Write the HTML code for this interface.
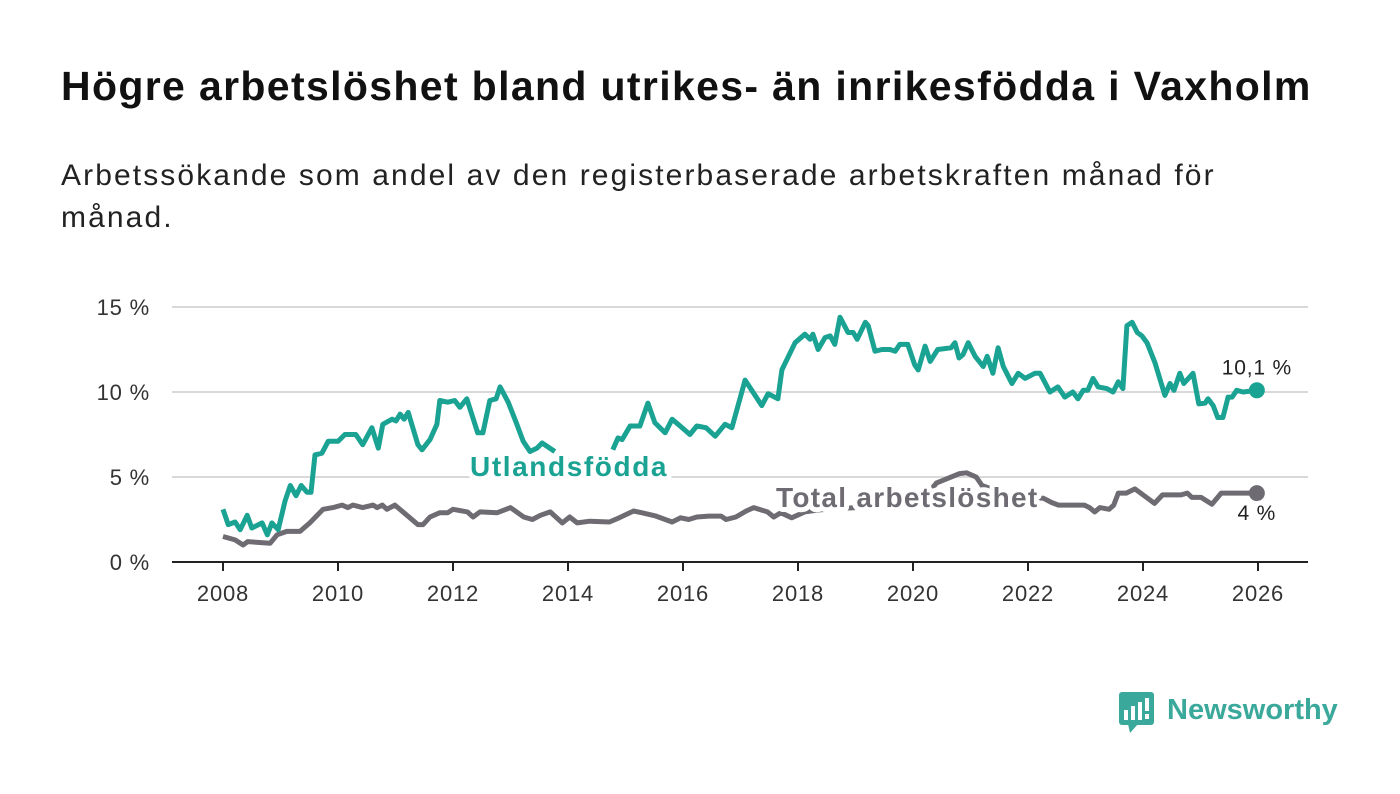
<!DOCTYPE html>
<html><head><meta charset="utf-8"><style>
html,body{margin:0;padding:0;background:#fff;}
body{width:1400px;height:794px;position:relative;overflow:hidden;font-family:"Liberation Sans","DejaVu Sans",sans-serif;color:#111;}
#title{position:absolute;left:61px;top:63px;font-size:41px;font-weight:bold;margin:0;letter-spacing:1.35px;white-space:nowrap;}
#subtitle{position:absolute;left:61px;top:155px;width:1230px;font-size:30px;line-height:42px;margin:0;color:#222;letter-spacing:2.1px;}
svg text{font-family:"Liberation Sans","DejaVu Sans",sans-serif;}
</style></head><body>
<h1 id="title">Högre arbetslöshet bland utrikes- än inrikesfödda i Vaxholm</h1>
<p id="subtitle">Arbetssökande som andel av den registerbaserade arbetskraften månad för månad.</p>
<svg id="chart" width="1400" height="794" style="position:absolute;left:0;top:0">
<g id="grid"></g><g id="axes"></g><g id="lines"></g><g id="labels"></g>
<g>
<rect x="1119" y="692" width="35" height="33" rx="3" fill="#3aa89a"/>
<polygon points="1128,724 1138,724 1130,733" fill="#3aa89a"/>
<rect x="1124" y="710" width="4" height="10" fill="#fff"/>
<rect x="1131" y="706" width="4" height="14" fill="#fff"/>
<rect x="1138" y="702" width="4" height="18" fill="#fff"/>
<rect x="1145" y="698" width="4" height="13" fill="#fff"/>
<rect x="1145" y="714" width="4" height="5" fill="#fff"/>
<text x="1167" y="719" font-size="29" font-weight="bold" fill="#3aa89a">Newsworthy</text>
</g>
</svg>
<script>
const foreignYears=[2008.00,2008.09,2008.21,2008.30,2008.42,2008.50,2008.68,2008.77,2008.85,2008.96,2009.08,2009.17,2009.27,2009.36,2009.46,2009.53,2009.60,2009.72,2009.83,2010.00,2010.12,2010.31,2010.43,2010.59,2010.70,2010.78,2010.94,2011.01,2011.08,2011.15,2011.22,2011.39,2011.46,2011.60,2011.72,2011.77,2011.91,2012.03,2012.12,2012.24,2012.43,2012.52,2012.64,2012.75,2012.82,2012.96,2013.10,2013.22,2013.34,2013.46,2013.55,2013.77,2014.2,2014.78,2014.87,2014.94,2015.08,2015.25,2015.39,2015.51,2015.69,2015.81,2015.95,2016.12,2016.24,2016.40,2016.56,2016.73,2016.85,2017.08,2017.37,2017.48,2017.65,2017.72,2017.95,2018.12,2018.21,2018.26,2018.35,2018.47,2018.56,2018.64,2018.73,2018.87,2018.96,2019.03,2019.17,2019.22,2019.34,2019.46,2019.60,2019.69,2019.77,2019.91,2020.03,2020.09,2020.21,2020.30,2020.43,2020.66,2020.73,2020.80,2020.87,2020.96,2021.08,2021.22,2021.29,2021.39,2021.48,2021.57,2021.72,2021.83,2021.95,2022.12,2022.21,2022.38,2022.52,2022.64,2022.78,2022.87,2022.96,2023.04,2023.13,2023.22,2023.37,2023.48,2023.57,2023.65,2023.72,2023.81,2023.90,2023.98,2024.07,2024.21,2024.38,2024.47,2024.54,2024.64,2024.71,2024.87,2024.97,2025.08,2025.13,2025.22,2025.30,2025.39,2025.48,2025.55,2025.63,2025.74,2025.98];
const foreignValues=[3.1,2.2,2.35,1.9,2.75,2.0,2.3,1.6,2.3,1.9,3.6,4.5,3.9,4.5,4.1,4.1,6.3,6.4,7.1,7.1,7.5,7.5,6.9,7.9,6.7,8.1,8.4,8.3,8.7,8.4,8.8,6.9,6.6,7.2,8.1,9.5,9.4,9.5,9.1,9.6,7.6,7.6,9.5,9.6,10.3,9.4,8.2,7.1,6.5,6.7,7.0,6.5,null,6.6,7.3,7.2,8.0,8.0,9.35,8.2,7.6,8.4,8.0,7.5,8.0,7.9,7.4,8.1,7.9,10.7,9.2,9.9,9.6,11.3,12.9,13.4,13.1,13.4,12.5,13.2,13.3,12.8,14.4,13.5,13.5,13.1,14.1,13.9,12.4,12.5,12.5,12.4,12.8,12.8,11.6,11.3,12.7,11.8,12.5,12.6,12.9,12.0,12.2,12.9,12.1,11.5,12.1,11.1,12.6,11.5,10.5,11.1,10.8,11.1,11.1,10.0,10.3,9.7,10.0,9.6,10.1,10.1,10.8,10.3,10.2,10.0,10.6,10.2,13.9,14.1,13.5,13.3,12.9,11.7,9.8,10.5,10.1,11.1,10.5,11.1,9.3,9.35,9.6,9.2,8.5,8.5,9.7,9.7,10.1,10.0,10.1];
const totalYears=[2008.0,2008.21,2008.35,2008.43,2008.82,2008.94,2009.11,2009.34,2009.51,2009.74,2009.91,2010.07,2010.17,2010.26,2010.43,2010.61,2010.68,2010.77,2010.85,2010.99,2011.25,2011.39,2011.48,2011.60,2011.77,2011.91,2012.00,2012.25,2012.35,2012.47,2012.77,2013.00,2013.23,2013.38,2013.52,2013.69,2013.90,2014.03,2014.16,2014.38,2014.72,2014.89,2015.14,2015.28,2015.53,2015.81,2015.96,2016.10,2016.24,2016.45,2016.66,2016.75,2016.92,2017.10,2017.23,2017.47,2017.58,2017.70,2017.89,2018.12,2018.33,2018.5,2019.0,2019.5,2020.0,2020.3,2020.41,2020.81,2020.93,2021.10,2021.2,2021.6,2022.0,2022.27,2022.41,2022.53,2022.98,2023.07,2023.16,2023.25,2023.41,2023.49,2023.57,2023.71,2023.86,2023.96,2024.20,2024.34,2024.66,2024.77,2024.85,2025.01,2025.20,2025.36,2025.53,2025.98];
const totalValues=[1.5,1.3,1.0,1.2,1.1,1.6,1.8,1.8,2.3,3.1,3.2,3.35,3.2,3.35,3.2,3.35,3.2,3.35,3.1,3.35,2.6,2.2,2.2,2.65,2.9,2.9,3.1,2.95,2.65,2.95,2.9,3.2,2.65,2.5,2.75,2.95,2.3,2.65,2.3,2.4,2.35,2.6,3.0,2.9,2.7,2.35,2.6,2.5,2.65,2.7,2.7,2.5,2.65,3.0,3.2,2.95,2.65,2.9,2.6,2.95,3.05,3.1,3.2,3.3,3.6,4.2,4.65,5.2,5.25,5.0,4.5,4.0,3.8,3.75,3.5,3.35,3.35,3.2,2.95,3.2,3.1,3.35,4.05,4.05,4.3,4.05,3.45,3.95,3.95,4.05,3.8,3.8,3.4,4.05,4.05,4.05];
const yTicks=[0,5,10,15];
const yTickLabels=["0 %","5 %","10 %","15 %"];
const xTicks=[2008,2010,2012,2014,2016,2018,2020,2022,2024,2026];
const lastForeignLabel="10,1 %";
const lastTotalLabel="4 %";

const NS="http://www.w3.org/2000/svg";
const X=y=>223+(y-2008)*57.5;
const Y=v=>562-v*17;
function mk(tag,attrs,parent){const e=document.createElementNS(NS,tag);for(const k in attrs)e.setAttribute(k,attrs[k]);parent.appendChild(e);return e;}
const grid=document.getElementById('grid'),axes=document.getElementById('axes'),lines=document.getElementById('lines'),labels=document.getElementById('labels');
yTicks.forEach((t,i)=>{
  if(t>0){const g=mk('line',{x1:172,x2:1308,y1:Y(t),y2:Y(t),stroke:'#d9d9d9','stroke-width':2},grid);
  
  }
  const tx=mk('text',{x:150,y:Y(t)+8,'text-anchor':'end','font-size':22,fill:'#333','letter-spacing':0.8},axes);tx.textContent=yTickLabels[i];
  
  
});
const ax=mk('line',{x1:172,x2:1308,y1:562,y2:562,stroke:'#222','stroke-width':2},axes);


xTicks.forEach(t=>{
  mk('line',{x1:X(t),x2:X(t),y1:562,y2:571,stroke:'#222','stroke-width':2},axes);
  const tx=mk('text',{x:X(t),y:601,'text-anchor':'middle','font-size':22,fill:'#333','letter-spacing':0.8},axes);tx.textContent=t;
  
  
});
function path(xs,vs){let d='',pen=false;for(let i=0;i<xs.length;i++){if(vs[i]==null){pen=false;continue;}d+=(pen?'L':'M')+X(xs[i]).toFixed(1)+','+Y(vs[i]).toFixed(1);pen=true;}return d;}
const tl=mk('path',{d:path(totalYears,totalValues),fill:'none',stroke:'#6e6c72','stroke-width':5,'stroke-linejoin':'round'},lines);


const fl=mk('path',{d:path(foreignYears,foreignValues),fill:'none',stroke:'#1aa293','stroke-width':5,'stroke-linejoin':'round'},lines);


const lf=foreignYears.length-1,lt=totalYears.length-1;
const d1=mk('circle',{cx:X(foreignYears[lf]),cy:Y(foreignValues[lf]),r:8,fill:'#1aa293'},lines);


const d2=mk('circle',{cx:X(totalYears[lt]),cy:Y(totalValues[lt]),r:8,fill:'#6e6c72'},lines);


function lab(x,y,txt,size,fill,weight,anchor,name,ls){const t=mk('text',{x:x,y:y,'font-size':size,fill:fill,'font-weight':weight,'text-anchor':anchor,'letter-spacing':ls,stroke:'#fff','stroke-width':10,'paint-order':'stroke','stroke-linejoin':'round'},labels);t.textContent=txt;

}
lab(470,476,'Utlandsfödda',28,'#1aa293','bold','start','foreign-born-series-label',1.6);
lab(776,507,'Total arbetslöshet',28,'#6e6c72','bold','start','total-series-label',1.3);
lab(X(foreignYears[lf]),Y(foreignValues[lf])-16,lastForeignLabel,21,'#222','normal','middle','foreign-born-end-value',0.8);
lab(X(totalYears[lt]),Y(totalValues[lt])+27,lastTotalLabel,21,'#222','normal','middle','total-end-value',0.8);
</script>
</body></html>
